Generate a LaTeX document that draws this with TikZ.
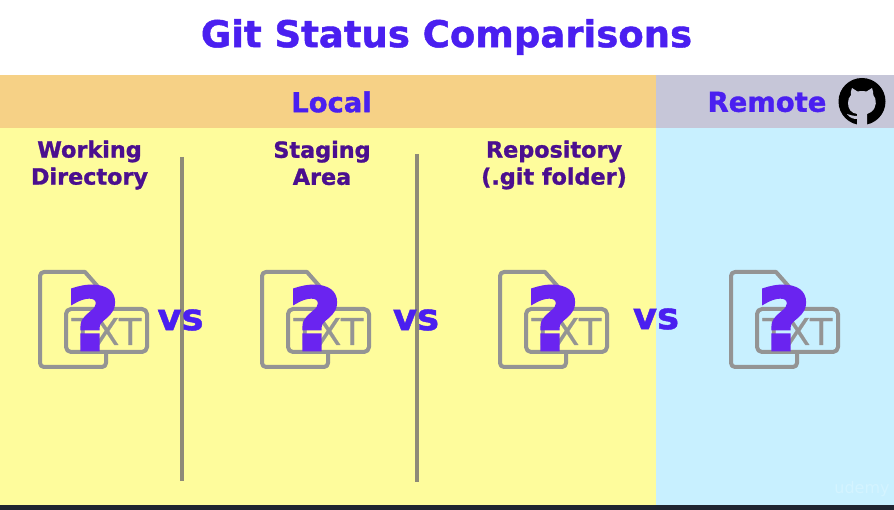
\documentclass[tikz,border=0pt]{standalone}
\usepackage{fontspec}
\setmainfont[BoldFeatures={FakeBold=1.2}]{DejaVu Sans}
\newfontfamily\qfont[FakeBold=3.5]{DejaVu Sans Bold}
\newfontfamily\tfont[FakeBold=.4]{DejaVu Sans}
\definecolor{yel}{HTML}{FEFC9C}
\definecolor{org}{HTML}{F6D186}
\definecolor{rem}{HTML}{C6C6D8}
\definecolor{sky}{HTML}{C8F0FF}
\definecolor{ttl}{HTML}{4A1FF0}
\definecolor{sub}{HTML}{4B0F8F}
\definecolor{barc}{HTML}{8E8A78}
\definecolor{icn}{HTML}{949494}
\definecolor{qm}{HTML}{6A24F0}
\definecolor{foot}{HTML}{1F2430}
\definecolor{wm}{HTML}{D4F4FF}
\tikzset{
  x=1pt,y=-1pt,
  title/.style={font=\bfseries\fontsize{37}{37}\selectfont,text=ttl,inner sep=0},
  band/.style={font=\bfseries\fontsize{27.4}{27}\selectfont,text=ttl,inner sep=0},
  head/.style={font=\bfseries\fontsize{22.3}{27}\selectfont,text=sub,inner sep=0,align=center},
  vsl/.style={font=\bfseries\fontsize{37}{37}\selectfont,text=ttl,inner sep=0},
  bar/.style={barc,line width=4pt},
  ol/.style={icn,line width=4pt,line join=round},
  txt/.style={font=\tfont\fontsize{37}{37}\selectfont,text=icn,inner sep=0},
  qmk/.style={font=\qfont\fontsize{86}{86}\selectfont,text=qm,inner sep=0}
}
\newcommand{\fileicon}[2]{%
  \begin{scope}[shift={(#1,0)}]
    \draw[ol,rounded corners=4pt] (64,272) -- (40,272) -- (40,367) -- (106,367) -- (106,352);
    \draw[ol] (64,272) -- (85,272) -- (100,289);
    \draw[ol,rounded corners=5pt] (66,309) rectangle (147,352);
    \node[txt] (txt#2) at (106.5,331.5) {TXT};
    \node[qmk,xscale=1.06] (q#2) at (93,318) {?};
  \end{scope}}
\begin{document}
\begin{tikzpicture}
\useasboundingbox (0,0) rectangle (894,510);
\fill[white] (0,0) rectangle (894,75);
\fill[yel] (0,128) rectangle (656,505);
\fill[sky] (656,128) rectangle (894,505);
\fill[org] (0,75) rectangle (656,128);
\fill[rem] (656,75) rectangle (894,128);
\fill[foot] (0,505) rectangle (894,510);
\node[title] (t) at (446.5,37) {Git Status Comparisons};
\node[band] (l) at (331.5,102) {Local};
\node[band] (r) at (767,102) {Remote};
\node[head] (h1) at (89.5,165) {Working\\Directory};
\node[head] (h2) at (322,163) {Staging\\Area};
\node[head] (h3) at (554,165) {Repository\\(.git folder)};
\draw[bar] (182,157) -- (182,481);
\draw[bar] (417,154) -- (417,482);
\fileicon{0}{a}
\fileicon{222}{b}
\fileicon{460}{c}
\fileicon{691}{d}
\node[vsl] (v1) at (180.5,320) {vs};
\node[vsl] (v2) at (416,320) {vs};
\node[vsl] (v3) at (656,319) {vs};
% GitHub mark
\fill[black] (862,101.5) circle (23.5);
\fill[rem] (852,88) -- (857.5,91.5) .. controls (860,91) and (864,91) .. (866.5,91.5) -- (872,88)
  .. controls (873,91) and (873.5,93) .. (873.3,95) .. controls (877,99) and (877,108) .. (871,112)
  .. controls (869.5,113) and (868,113.5) .. (867,114) -- (867,125) -- (857,125) -- (857,119)
  .. controls (853,119) and (850,118) .. (847,114) .. controls (850,115) and (853,116) .. (857,116) -- (857,114)
  .. controls (851,113) and (848,109) .. (848,103) .. controls (848,100) and (849,97) .. (851,95)
  .. controls (850.5,93) and (851,90) .. (852,88) -- cycle;
\node[font=\fontsize{16}{16}\selectfont,text=wm,inner sep=0] (u) at (862,489) {udemy};
\end{tikzpicture}
\end{document}
